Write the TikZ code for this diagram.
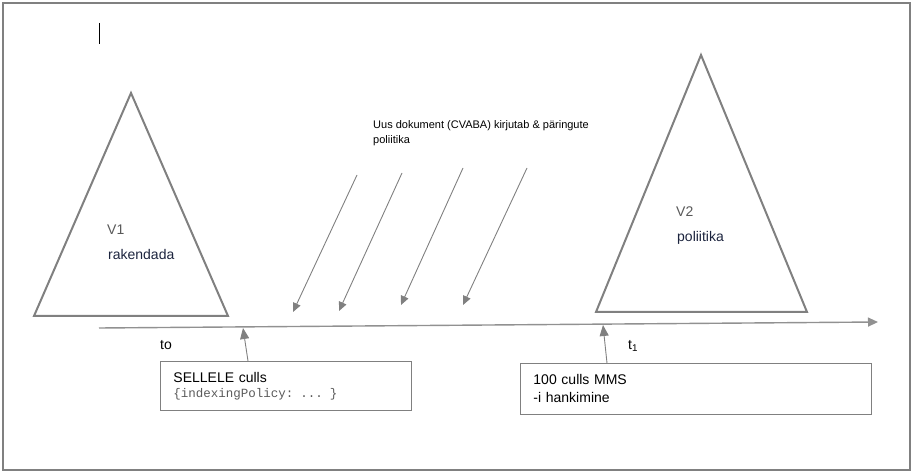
\documentclass[tikz,border=0pt]{standalone}
\usepackage{fontspec}
\setmainfont{Liberation Sans}
\setmonofont{Liberation Mono}
\usetikzlibrary{arrows.meta}
\definecolor{linegray}{RGB}{128,128,128}
\definecolor{axisgray}{RGB}{145,145,145}
\definecolor{labelgray}{RGB}{89,89,89}
\definecolor{labelnavy}{RGB}{28,36,62}

\begin{document}
\begin{tikzpicture}[x = 1pt, y = -1pt,
		tip/.style = {-{Triangle[length=9pt,width=8pt]}, linegray, line width=0.9pt},
		txt/.style = {inner sep=0pt, anchor=base west, font=\fontsize{14}{17}\selectfont},
		infobox/.style = {draw=linegray, line width=0.9pt, anchor=north west, align=left, inner xsep=13pt, inner ysep=0pt}]
		\useasboundingbox (0,0) rectangle (914,473);
		\draw [linegray, line width = 2pt] (3,3) rectangle (910,470);
		\draw [line width = 1pt] (99,23) -- (99,44);
		% versions
		\draw [linegray, line width = 2pt] (131,93) -- (228,316) -- (34,316) -- cycle;
		\draw [linegray, line width = 2pt] (701,55) -- (807,312) -- (596,312) -- cycle;
		\node [txt, labelgray] (v1) at (107,235) {V1};
		\node [txt, labelnavy] (v1sub) at (108,260) {rakendada};
		\node [txt, labelgray] (v2) at (676,217) {V2};
		\node [txt, labelnavy] (v2sub) at (677,242) {poliitika};
		% time axis
		\coordinate (t0) at (99,328);
		\coordinate (tend) at (878,322);
		\draw [axisgray, line width = 1.4pt, -{Triangle[length=10pt,width=9pt]}] (t0) -- (tend);
		\node [txt] (to) at (160,350) {to};
		\node [txt] (t1) at (628,349) {t\textsubscript{1}};
		% writes
		\node [txt, font=\fontsize{11}{15}\selectfont, align=left, anchor=north west] (writes) at (373,120) {Uus dokument (CVABA) kirjutab \& päringute\\poliitika};
		\foreach \sx/\sy/\ex/\ey [count=\i] in {357/175/293/312, 402/173/339/311, 463/168/401/305, 527/168/463/305}
			\draw [tip] (\sx,\sy) coordinate (ws\i) -- (\ex,\ey) coordinate (we\i);
		% boxes
		\node [infobox, text width = 225pt, minimum height = 49pt, font=\fontsize{14}{15}\selectfont] (box1) at (160,361) {SELLELE culls\\{\ttfamily\fontsize{12.5}{15}\selectfont\color{labelgray}\{indexingPolicy: ... \}}};
		\node [infobox, text width = 325pt, minimum height = 51pt, font=\fontsize{14}{18}\selectfont] (box2) at (520,363) {100 culls MMS\\-i hankimine};
		\coordinate (c0) at (243,328);
		\coordinate (c1) at (603,325);
		\draw [tip, -{Triangle[length=11pt,width=9pt]}] ([xshift=88pt]box1.north west) -- (c0);
		\draw [tip, -{Triangle[length=11pt,width=9pt]}] ([xshift=87pt]box2.north west) -- (c1);
	\end{tikzpicture}
\end{document}
